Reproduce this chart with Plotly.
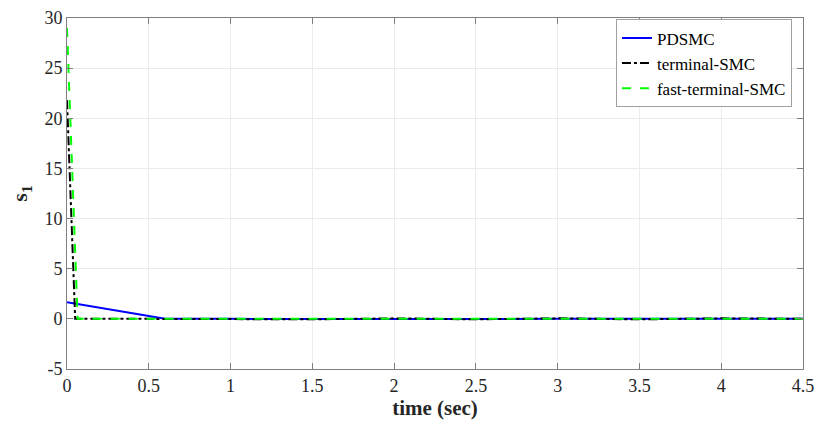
import plotly.graph_objects as go

# PDSMC
t_pd = [0, 0.6, 1.0, 1.5, 2.0, 2.5, 3.0, 3.5, 4.0, 4.5]
s_pd = [1.65, 0.0, 0.0, -0.02, 0.0, -0.02, 0.0, -0.02, 0.0, 0.0]

# terminal-SMC
t_tsmc = [0, 0.05, 0.5, 1.0, 1.5, 2.0, 2.5, 3.0, 3.5, 4.0, 4.5]
s_tsmc = [21.8, 0.0, 0.0, 0.0, -0.05, 0.05, -0.05, 0.05, -0.05, 0.05, 0.0]

# fast-terminal-SMC
t_ftsmc = [0, 0.065, 0.5, 1.0, 1.5, 2.0, 2.5, 3.0, 3.5, 4.0, 4.5]
s_ftsmc = [29.0, 0.0, 0.0, 0.0, 0.03, -0.03, 0.03, -0.03, 0.03, -0.03, 0.0]

x_ticks = [0, 0.5, 1, 1.5, 2, 2.5, 3, 3.5, 4, 4.5]
y_ticks = [-5, 0, 5, 10, 15, 20, 25, 30]

serif = "Liberation Serif"

fig = go.Figure()
fig.add_trace(go.Scatter(x=t_pd, y=s_pd, mode='lines', name='PDSMC',
                         line=dict(color='#0000ff', width=2)))
fig.add_trace(go.Scatter(x=t_tsmc, y=s_tsmc, mode='lines', name='terminal-SMC',
                         line=dict(color='#000000', width=2, dash='dashdot')))
fig.add_trace(go.Scatter(x=t_ftsmc, y=s_ftsmc, mode='lines', name='fast-terminal-SMC',
                         line=dict(color='#00ff00', width=2, dash='dash')))

fig.update_layout(
    width=830, height=426,
    margin=dict(l=67, r=27, t=8, b=57),
    paper_bgcolor='white', plot_bgcolor='white',
    font_family=serif, font_size=18, font_color='#262626',
    legend=dict(x=0.985, y=0.996, xanchor='right', yanchor='top',
                bgcolor='white', bordercolor='#a0a0a0', borderwidth=1,
                font=dict(size=17, color='#000000'),
                tracegroupgap=0, itemwidth=30),
)
fig.update_xaxes(range=[0, 4.5], tickvals=x_ticks, ticktext=[str(v) for v in x_ticks],
                 title_text='<b>time (sec)</b>', title_font_size=21, title_standoff=2,
                 ticklabeloverflow='allow')
fig.update_yaxes(range=[-5, 30], tickvals=y_ticks, ticktext=[str(v) for v in y_ticks],
                 title_text='<b>s<sub>1</sub></b>', title_font_size=22, title_standoff=10,
                 ticklabeloverflow='allow')
fig.update_xaxes(showgrid=True, gridcolor='#ebebeb', showline=True, linecolor='#808080',
                 mirror='ticks', ticks='inside', ticklen=6, tickcolor='#808080', zeroline=False)
fig.update_yaxes(showgrid=True, gridcolor='#ebebeb', showline=True, linecolor='#808080',
                 mirror='ticks', ticks='inside', ticklen=6, tickcolor='#808080', zeroline=False)

fig.write_html("out.html", config={'displayModeBar': False},
               post_script="document.body.style.margin='0';")
